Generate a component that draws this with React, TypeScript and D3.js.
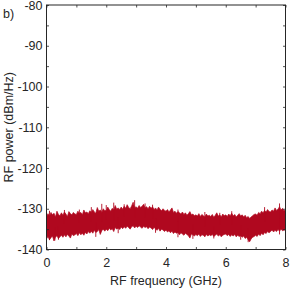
import { useEffect, useRef } from "react";
import * as d3 from "d3";

// frequency grid step (GHz) of the sampled trace
const freqStep = 0.05;

// upper edge of the noise band (dBm/Hz), one value per 0.05 GHz from 0 to 8 GHz
const upperEdge: number[] = [
  -131.9, -131.2, -131.8, -130.9, -131.5, -131.1, -132.0, -130.6, -131.4, -131.7,
  -131.0, -131.6, -130.8, -131.3, -131.9, -130.7, -131.2, -131.5, -130.9, -131.3,
  -131.4, -130.6, -131.1, -130.9, -131.5, -130.3, -131.0, -130.8, -131.2, -130.5,
  -130.9, -130.2, -130.8, -131.1, -129.7, -130.6, -130.3, -130.9, -130.0, -130.5,
  -130.4, -129.6, -130.2, -130.6, -129.9, -130.3, -129.2, -130.1, -129.8, -130.2,
  -129.6, -130.1, -129.4, -129.9, -129.0, -129.7, -130.0, -129.3, -128.4, -129.8,
  -129.5, -129.9, -129.2, -129.7, -129.4, -128.9, -129.8, -129.5, -130.0, -129.4,
  -129.9, -129.5, -130.2, -129.8, -130.3, -129.6, -130.1, -130.5, -130.0, -130.4,
  -130.6, -130.2, -130.8, -130.3, -129.8, -130.9, -130.6, -131.1, -130.7, -131.0,
  -131.3, -130.8, -131.4, -131.0, -131.6, -131.2, -130.7, -131.5, -131.3, -131.7,
  -131.5, -131.8, -131.2, -131.9, -131.4, -131.7, -132.0, -131.3, -131.8, -131.6,
  -131.9, -131.4, -132.1, -131.6, -131.0, -131.8, -131.5, -132.0, -131.3, -131.7,
  -131.5, -131.9, -131.3, -131.7, -131.1, -131.8, -131.4, -132.0, -131.6, -131.2,
  -131.8, -131.5, -132.0, -131.6, -132.2, -131.9, -132.4, -132.0, -131.7, -131.4,
  -131.3, -131.6, -130.9, -131.2, -130.6, -131.0, -130.4, -130.8, -130.2, -130.7,
  -130.8, -130.3, -130.6, -129.8, -130.4, -130.1, -129.5, -130.3, -129.9, -130.5,
  -130.1,
];

// lower edge of the noise band (dBm/Hz)
const lowerEdge: number[] = [
  -137.4, -136.8, -137.6, -137.1, -136.7, -137.9, -137.0, -136.6, -137.3, -136.9,
  -136.5, -137.0, -136.4, -136.9, -136.3, -136.7, -137.2, -136.2, -136.6, -136.4,
  -136.1, -136.6, -135.9, -136.4, -136.0, -136.5, -135.8, -136.2, -135.6, -136.0,
  -135.5, -136.0, -135.3, -135.8, -135.6, -135.1, -136.3, -135.4, -135.0, -135.5,
  -135.0, -135.4, -134.8, -135.2, -134.9, -135.6, -134.6, -135.0, -134.7, -135.1,
  -134.5, -134.9, -134.4, -134.8, -134.3, -134.6, -135.0, -134.4, -134.2, -134.7,
  -134.3, -134.6, -134.2, -134.5, -134.8, -134.3, -134.6, -134.4, -134.9, -134.5,
  -134.7, -135.1, -134.6, -134.9, -135.3, -134.8, -135.5, -135.0, -135.2, -135.6,
  -135.2, -135.7, -135.4, -135.9, -135.5, -136.1, -135.7, -136.0, -135.8, -136.4,
  -135.9, -136.2, -136.5, -136.0, -136.3, -136.6, -137.2, -136.2, -136.4, -136.7,
  -136.3, -136.6, -136.2, -136.8, -136.4, -136.5, -136.9, -136.3, -136.7, -136.4,
  -136.6, -136.3, -136.8, -136.5, -136.2, -136.7, -136.4, -136.9, -136.5, -136.3,
  -136.2, -136.6, -136.3, -136.8, -136.4, -136.7, -136.3, -136.9, -136.5, -136.8,
  -136.6, -137.0, -136.7, -137.3, -137.0, -137.6, -138.1, -137.4, -137.0, -136.8,
  -136.5, -136.8, -136.2, -136.6, -136.0, -136.4, -135.8, -136.1, -135.6, -135.9,
  -135.6, -135.2, -135.7, -135.3, -135.6, -135.1, -135.5, -135.0, -135.4, -135.2,
  -135.3,
];

// isolated noise spikes poking out of the band
const upSpikeFreq = [0.1, 0.6, 1.1, 1.5, 1.85, 2.0, 2.25, 2.6, 2.95, 3.3, 3.55, 4.4, 5.3, 5.8, 6.2, 7.3, 7.8];
const upSpikeDb = [-130.5, -130.3, -130.2, -129.6, -128.8, -129.1, -128.5, -128.9, -127.9, -128.7, -129.0, -130.2, -130.8, -131.0, -130.6, -129.6, -128.7];
const downSpikeFreq = [0.1, 0.28, 0.4, 1.65, 2.4, 3.65, 4.4, 4.9, 5.6, 6.5, 6.75, 7.8];
const downSpikeDb = [-137.7, -137.8, -137.6, -136.9, -136.0, -135.9, -137.0, -137.4, -137.3, -137.6, -138.2, -136.3];

const xTicks = [0, 1, 2, 3, 4, 5, 6, 7, 8];
const yTicks = [-140, -135, -130, -125, -120, -115, -110, -105, -100, -95, -90, -85, -80];

export default function App() {
  const ref = useRef<SVGSVGElement>(null);

  useEffect(() => {
    if (!ref.current) return;
    const svg = d3.select(ref.current);
    svg.selectAll("*").remove();

    const left = 46.5, right = 285.5, top = 5, bottom = 249.5;
    const axisColor = "#262626";
    const traceColor = "#b0081f";
    const font = "'Liberation Sans', Arial, Helvetica, sans-serif";
    const fontSize = 12.5;

    const x = d3.scaleLinear().domain([0, 8]).range([left, right]);
    const y = d3.scaleLinear().domain([-140, -80]).range([bottom, top]);

    // noise band
    const band = upperEdge.map((u, i) => ({ f: i * freqStep, hi: u, lo: lowerEdge[i] }));
    const area = d3
      .area<{ f: number; hi: number; lo: number }>()
      .x((d) => x(d.f))
      .y0((d) => y(d.lo))
      .y1((d) => y(d.hi));
    svg
      .append("path")
      .datum(band)
      .attr("d", area)
      .attr("fill", traceColor)
      .attr("stroke", traceColor)
      .attr("stroke-width", 0.7);

    // spikes, drawn from the middle of the band out to their peak
    const mid = (f: number) => {
      const i = Math.round(f / freqStep);
      return (upperEdge[i] + lowerEdge[i]) / 2;
    };
    const spikes = [
      ...upSpikeFreq.map((f, i) => ({ f, v: upSpikeDb[i] })),
      ...downSpikeFreq.map((f, i) => ({ f, v: downSpikeDb[i] })),
    ];
    svg
      .append("g")
      .selectAll("line")
      .data(spikes)
      .enter()
      .append("line")
      .attr("x1", (d) => x(d.f))
      .attr("x2", (d) => x(d.f))
      .attr("y1", (d) => y(mid(d.f)))
      .attr("y2", (d) => y(d.v))
      .attr("stroke", traceColor)
      .attr("stroke-width", 0.9);

    // axes with inward ticks, MATLAB style
    const styleAxis = (g: d3.Selection<SVGGElement, unknown, null, undefined>) => {
      g.select(".domain").remove();
      g.selectAll("line").attr("stroke", axisColor).attr("stroke-width", 0.8);
      g.selectAll("text")
        .attr("fill", axisColor)
        .style("font-family", font)
        .style("font-size", `${fontSize}px`);
    };

    svg
      .append("g")
      .attr("transform", `translate(0,${bottom})`)
      .call(
        d3
          .axisBottom(x)
          .tickValues(xTicks)
          .tickSizeInner(-2.5)
          .tickSizeOuter(0)
          .tickPadding(9)
          .tickFormat((d) => (+d % 2 === 0 ? String(d) : ""))
      )
      .call(styleAxis);

    svg
      .append("g")
      .attr("transform", `translate(0,${top})`)
      .call(d3.axisTop(x).tickValues(xTicks).tickSizeInner(-2.5).tickSizeOuter(0).tickFormat(() => ""))
      .call(styleAxis);

    svg
      .append("g")
      .attr("transform", `translate(${left},0)`)
      .call(
        d3
          .axisLeft(y)
          .tickValues(yTicks)
          .tickSizeInner(-2.5)
          .tickSizeOuter(0)
          .tickPadding(4)
          .tickFormat((d) => (+d % 10 === 0 ? String(d) : ""))
      )
      .call(styleAxis);

    svg
      .append("g")
      .attr("transform", `translate(${right},0)`)
      .call(d3.axisRight(y).tickValues(yTicks).tickSizeInner(-2.5).tickSizeOuter(0).tickFormat(() => ""))
      .call(styleAxis);

    // box
    svg
      .append("rect")
      .attr("x", left)
      .attr("y", top)
      .attr("width", right - left)
      .attr("height", bottom - top)
      .attr("fill", "none")
      .attr("stroke", axisColor)
      .attr("stroke-width", 1);

    // axis titles
    svg
      .append("text")
      .attr("x", (left + right) / 2)
      .attr("y", 284.5)
      .attr("text-anchor", "middle")
      .attr("fill", axisColor)
      .style("font-family", font)
      .style("font-size", `${fontSize}px`)
      .text("RF frequency (GHz)");

    svg
      .append("text")
      .attr("transform", `translate(12.5,${(top + bottom) / 2}) rotate(-90)`)
      .attr("text-anchor", "middle")
      .attr("fill", axisColor)
      .style("font-family", font)
      .style("font-size", `${fontSize}px`)
      .text("RF power (dBm/Hz)");

    svg
      .append("text")
      .attr("x", 3)
      .attr("y", 17.5)
      .attr("fill", axisColor)
      .style("font-family", font)
      .style("font-size", `${fontSize}px`)
      .text("b)");
  }, []);

  return (
    <svg
      ref={ref}
      width={291}
      height={291}
      style={{ position: "absolute", left: 0, top: 0, background: "#fff" }}
    />
  );
}
